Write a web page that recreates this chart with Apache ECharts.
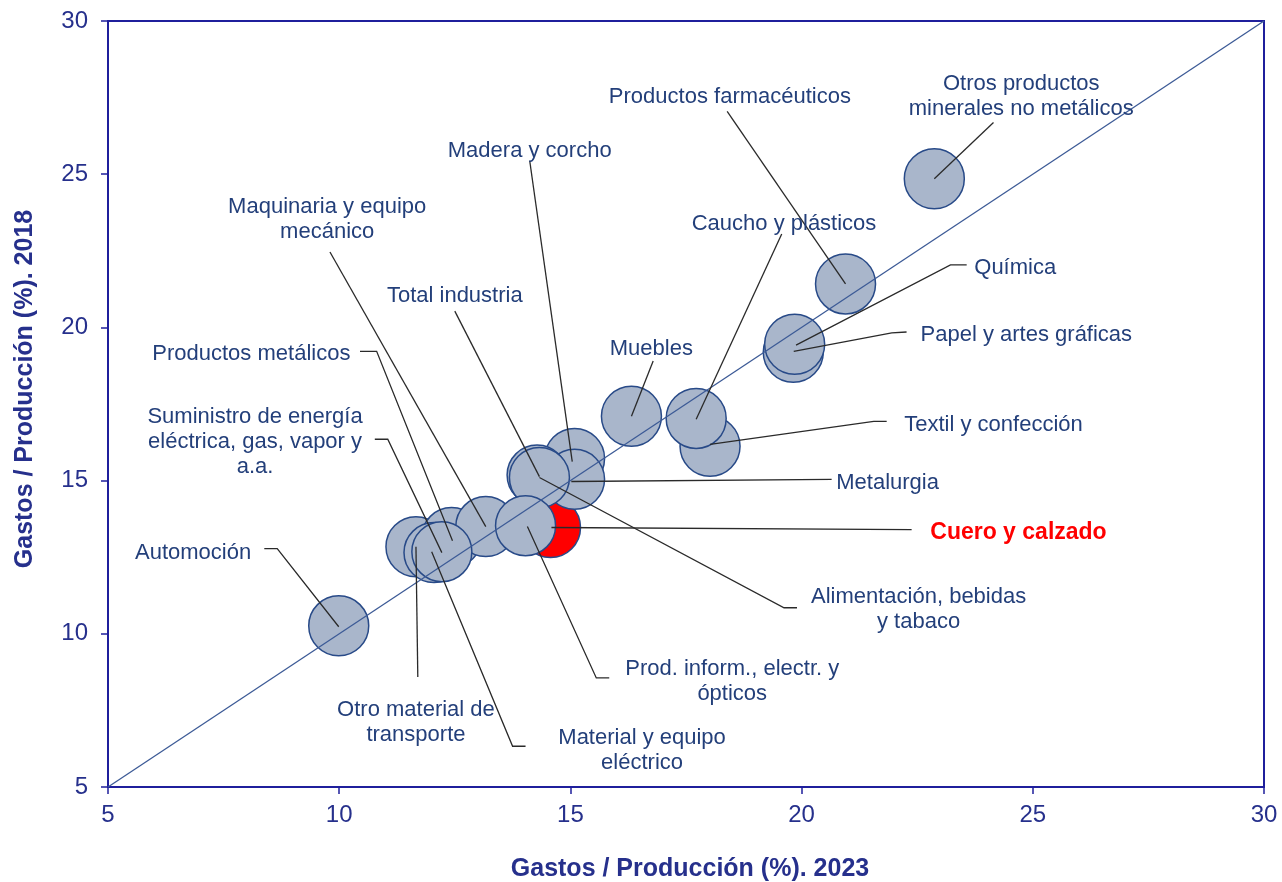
<!DOCTYPE html>
<html>
<head>
<meta charset="utf-8">
<title>Gastos / Producción</title>
<script src="https://cdn.jsdelivr.net/npm/echarts@6/dist/echarts.min.js"></script>
<style>
  html, body { margin: 0; padding: 0; background: #fff; }
  #chart { width: 1282px; height: 882px; }
</style>
</head>
<body>
<div id="chart"></div>
<script>
// sectors, in drawing order (last one on top)
var sectors = [
    'Otros productos\nminerales no metálicos',
    'Productos farmacéuticos',
    'Papel y artes gráficas',
    'Química',
    'Textil y confección',
    'Caucho y plásticos',
    'Muebles',
    'Automoción',
    'Cuero y calzado',
    'Madera y corcho',
    'Metalurgia',
    'Alimentación, bebidas\ny tabaco',
    'Total industria',
    'Otro material de\ntransporte',
    'Productos metálicos',
    'Maquinaria y equipo\nmecánico',
    'Prod. inform., electr. y\nópticos',
    'Material y equipo\neléctrico',
    'Suministro de energía\neléctrica, gas, vapor y\na.a.'
];
// gastos / producción (%) 2023
var gastos2023 = [22.87, 20.95, 19.82, 19.85, 18.02, 17.72, 16.32, 9.99, 14.57, 15.09, 15.09, 14.28, 14.33, 11.66, 12.43, 13.17, 14.03, 12.05, 12.22];
// gastos / producción (%) 2018
var gastos2018 = [24.85, 21.42, 19.19, 19.45, 16.12, 17.03, 17.10, 10.26, 13.47, 15.72, 15.04, 15.18, 15.10, 12.84, 13.14, 13.50, 13.53, 12.65, 12.68];
var highlight = 'Cuero y calzado';

var axisTicks = [5, 10, 15, 20, 25, 30];

// label anchors (axis units) and leader lines, same order as sectors
var labelX = [24.75, 18.45, 24.86, 24.62, 24.15, 19.62, 16.75, 6.84, 24.69, 14.12, 21.86, 22.53, 12.50, 11.66, 8.10, 9.74, 18.50, 16.55, 8.18];
var labelY = [27.55, 27.52, 19.77, 21.93, 16.82, 23.37, 19.31, 12.63, 13.29, 25.75, 14.92, 10.80, 21.04, 7.12, 19.14, 23.53, 8.44, 6.19, 16.25];
var leaders = [
    [[24.15, 26.69], [22.87, 24.85]],
    [[18.39, 27.05], [20.95, 21.42]],
    [[22.27, 19.85], [21.95, 19.82], [19.83, 19.22]],
    [[23.57, 22.04], [23.22, 22.04], [19.88, 19.42]],
    [[21.84, 16.93], [21.56, 16.93], [18.02, 16.18]],
    [[19.57, 23.05], [17.72, 17.00]],
    [[16.79, 18.90], [16.32, 17.10]],
    [[8.38, 12.78], [8.66, 12.78], [9.99, 10.23]],
    [[22.38, 13.40], [14.59, 13.47]],
    [[14.12, 25.44], [15.04, 15.62]],
    [[20.65, 15.04], [15.02, 14.97]],
    [[19.90, 10.85], [19.62, 10.85], [14.33, 15.10]],
    [[12.50, 20.53], [14.33, 15.13]],
    [[11.70, 8.59], [11.66, 12.84]],
    [[10.45, 19.22], [10.81, 19.22], [12.45, 13.04]],
    [[9.80, 22.46], [13.17, 13.50]],
    [[15.84, 8.56], [15.56, 8.56], [14.07, 13.50]],
    [[14.03, 6.33], [13.75, 6.33], [12.00, 12.68]],
    [[10.77, 16.35], [11.05, 16.35], [12.22, 12.65]]
];

var axisBlue = '#1f1f9c';
var textBlue = '#26308c';
var labelBlue = '#233f7a';
var font = 'Liberation Sans, Arial, sans-serif';

var bubbles = sectors.map(function (name, i) {
    var item = { name: name, value: [gastos2023[i], gastos2018[i]] };
    if (name === highlight) {
        item.itemStyle = { color: '#ff0000' };
    }
    return item;
});

var labelPoints = sectors.map(function (name, i) {
    var item = { name: name, value: [labelX[i], labelY[i]] };
    if (name === highlight) {
        item.label = { color: '#ff0000', fontWeight: 'bold', fontSize: 23 };
    }
    return item;
});

var leaderLines = leaders.map(function (pts) {
    return { coords: pts };
});

var chart = echarts.init(document.getElementById('chart'));

var option = {
    animation: false,
    backgroundColor: '#fff',
    textStyle: { fontFamily: font },
    grid: {
        left: 108,
        right: 18,
        top: 21,
        bottom: 95,
        outerBoundsMode: 'none',
        containLabel: false,
        show: true,
        borderColor: axisBlue,
        borderWidth: 2
    },
    xAxis: {
        type: 'value',
        min: axisTicks[0],
        max: axisTicks[axisTicks.length - 1],
        interval: 5,
        name: 'Gastos / Producción (%). 2023',
        nameLocation: 'middle',
        nameGap: 70,
        nameTextStyle: { color: textBlue, fontSize: 25, fontWeight: 'bold', fontFamily: font, padding: [0, 0, 0, 8] },
        axisLine: { show: true, lineStyle: { color: axisBlue, width: 2 } },
        axisTick: { show: true, inside: false, length: 7, lineStyle: { color: axisBlue, width: 1.5 } },
        axisLabel: { color: textBlue, fontSize: 24, margin: 16, fontFamily: font },
        splitLine: { show: false }
    },
    yAxis: {
        type: 'value',
        min: axisTicks[0],
        max: axisTicks[axisTicks.length - 1],
        interval: 5,
        name: 'Gastos / Producción (%). 2018',
        nameLocation: 'middle',
        nameGap: 70,
        nameRotate: 90,
        nameTextStyle: { color: textBlue, fontSize: 25, fontWeight: 'bold', fontFamily: font, padding: [0, 0, 0, 30] },
        axisLine: { show: true, lineStyle: { color: axisBlue, width: 2 } },
        axisTick: { show: true, inside: false, length: 7, lineStyle: { color: axisBlue, width: 1.5 } },
        axisLabel: { color: textBlue, fontSize: 24, margin: 20, fontFamily: font },
        splitLine: { show: false }
    },
    series: [
        {
            name: 'sectores',
            type: 'scatter',
            symbol: 'circle',
            symbolSize: 60,
            z: 2,
            silent: true,
            itemStyle: {
                color: '#a9b6cb',
                borderColor: '#284a88',
                borderWidth: 1.5,
                opacity: 1
            },
            data: bubbles
        },
        {
            name: 'diagonal',
            type: 'line',
            z: 3,
            silent: true,
            symbol: 'none',
            lineStyle: { color: '#3c5a96', width: 1.3 },
            data: [[axisTicks[0], axisTicks[0]], [axisTicks[axisTicks.length - 1], axisTicks[axisTicks.length - 1]]]
        },
        {
            name: 'conectores',
            type: 'lines',
            coordinateSystem: 'cartesian2d',
            polyline: true,
            z: 4,
            silent: true,
            lineStyle: { color: '#2a2a2a', width: 1.3, opacity: 1 },
            data: leaderLines
        },
        {
            name: 'etiquetas',
            type: 'scatter',
            symbolSize: 1,
            z: 5,
            silent: true,
            itemStyle: { color: 'rgba(0,0,0,0)', opacity: 1 },
            label: {
                show: true,
                position: 'inside',
                formatter: '{b}',
                color: labelBlue,
                fontSize: 22,
                lineHeight: 25,
                align: 'center',
                verticalAlign: 'middle',
                fontFamily: font
            },
            labelLayout: { hideOverlap: false },
            data: labelPoints
        }
    ]
};

chart.setOption(option);
</script>
</body>
</html>
